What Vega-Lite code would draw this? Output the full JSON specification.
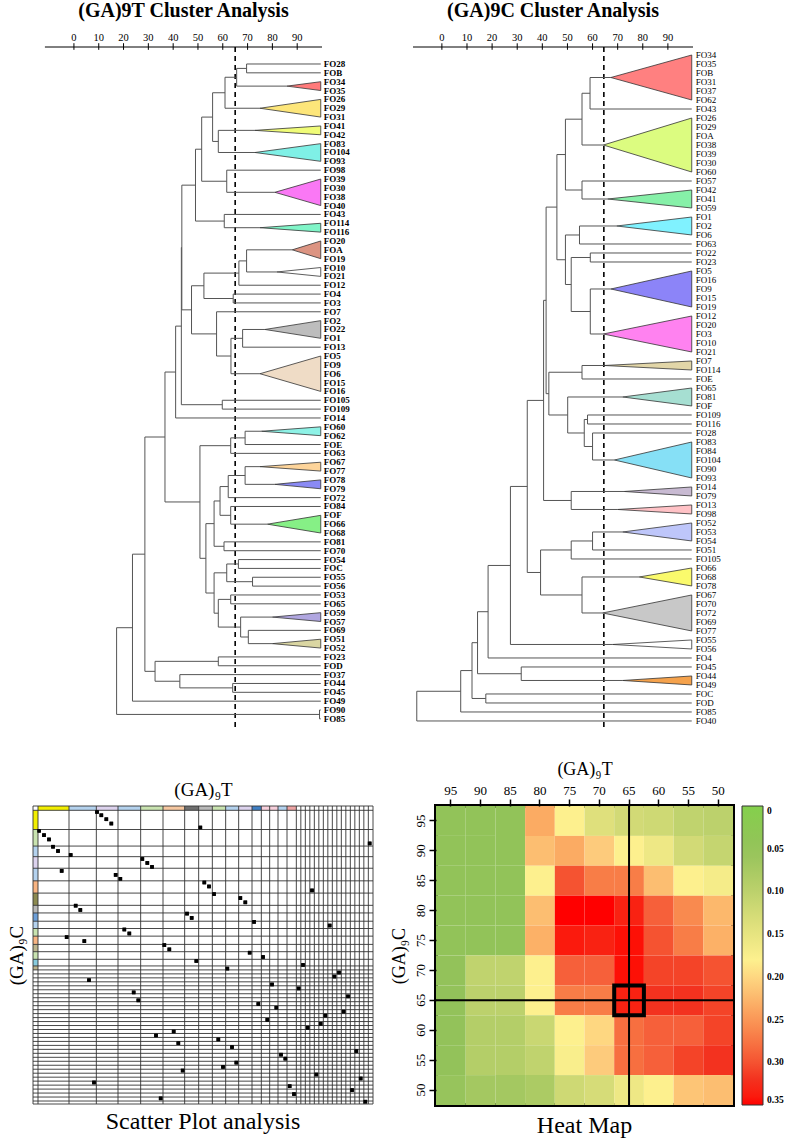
{
"$schema": "https://vega.github.io/schema/vega-lite/v6.json",
"background": "white",
"padding": {"left": 7, "top": 1, "right": 2, "bottom": 2},
"config": {
  "font": "Liberation Serif",
  "view": {"stroke": null},
  "title": {"font": "Liberation Serif", "color": "black"},
  "axis": {"labelFont": "Liberation Serif", "titleFont": "Liberation Serif", "labelColor": "black", "titleColor": "black", "tickColor": "black", "grid": false},
  "legend": {"labelFont": "Liberation Serif", "labelColor": "black"},
  "text": {"font": "Liberation Serif"}
},
"datasets": {
  "tk": [{"v":0},{"v":10},{"v":20},{"v":30},{"v":40},{"v":50},{"v":60},{"v":70},{"v":80},{"v":90}],
  "tn": [
    {"x":69.6,"ya":0,"xa":99.5,"yb":1,"xb":99.5},
    {"x":65.6,"ya":0.5,"xa":69.6,"yb":2.5,"xb":85.9},
    {"x":60.9,"ya":1.5,"xa":65.6,"yb":5,"xb":75},
    {"x":58.2,"ya":7.5,"xa":73,"yb":10,"xb":73},
    {"x":55.9,"ya":3.25,"xa":60.9,"yb":8.75,"xb":58.2},
    {"x":61.6,"ya":12,"xa":99.5,"yb":14.5,"xb":81},
    {"x":51.5,"ya":6,"xa":55.9,"yb":13.25,"xb":61.6},
    {"x":60.6,"ya":17,"xa":99.5,"yb":18.5,"xb":75},
    {"x":49.0,"ya":9.63,"xa":51.5,"yb":17.75,"xb":60.6},
    {"x":69.6,"ya":21,"xa":88,"yb":23.5,"xb":81.8},
    {"x":66.5,"ya":22.25,"xa":69.6,"yb":25,"xb":99.5},
    {"x":64.2,"ya":26,"xa":99.5,"yb":27,"xb":99.5},
    {"x":52.4,"ya":23.63,"xa":66.5,"yb":26.5,"xb":64.2},
    {"x":68,"ya":30,"xa":77,"yb":32,"xb":99.5},
    {"x":63.3,"ya":31,"xa":68,"yb":35,"xb":75},
    {"x":57.5,"ya":28,"xa":99.5,"yb":33,"xb":63.3},
    {"x":47.4,"ya":25.06,"xa":52.4,"yb":30.5,"xb":57.5},
    {"x":43.5,"ya":13.69,"xa":49.0,"yb":27.78,"xb":47.4},
    {"x":59.8,"ya":38,"xa":99.5,"yb":39,"xb":99.5},
    {"x":43.3,"ya":20.74,"xa":43.5,"yb":38.5,"xb":59.8},
    {"x":41,"ya":29.62,"xa":43.3,"yb":40,"xb":99.5},
    {"x":69,"ya":41.5,"xa":75.6,"yb":43,"xb":99.5},
    {"x":63.2,"ya":42.25,"xa":69,"yb":44,"xb":99.5},
    {"x":69,"ya":45.5,"xa":75,"yb":47.5,"xb":81},
    {"x":62.2,"ya":46.5,"xa":69,"yb":49,"xb":99.5},
    {"x":63.2,"ya":50,"xa":99.5,"yb":52,"xb":78},
    {"x":58.9,"ya":47.75,"xa":62.2,"yb":51,"xb":63.2},
    {"x":60.5,"ya":54,"xa":99.5,"yb":55,"xb":99.5},
    {"x":56.5,"ya":49.38,"xa":58.9,"yb":54.5,"xb":60.5},
    {"x":66.3,"ya":56,"xa":99.5,"yb":57,"xb":99.5},
    {"x":72,"ya":58,"xa":99.5,"yb":59,"xb":99.5},
    {"x":61.6,"ya":56.5,"xa":66.3,"yb":58.5,"xb":72},
    {"x":63.2,"ya":60,"xa":99.5,"yb":61,"xb":99.5},
    {"x":70.3,"ya":64,"xa":99.5,"yb":65.5,"xb":80},
    {"x":67.2,"ya":62.5,"xa":80,"yb":64.75,"xb":70.3},
    {"x":58.2,"ya":60.5,"xa":63.2,"yb":63.63,"xb":67.2},
    {"x":56.5,"ya":57.5,"xa":61.6,"yb":62.06,"xb":58.2},
    {"x":53.2,"ya":51.94,"xa":56.5,"yb":59.78,"xb":56.5},
    {"x":50.8,"ya":43.13,"xa":63.2,"yb":55.86,"xb":53.2},
    {"x":36.7,"ya":34.81,"xa":41,"yb":49.49,"xb":50.8},
    {"x":58.2,"ya":67,"xa":99.5,"yb":68,"xb":99.5},
    {"x":64,"ya":70,"xa":99.5,"yb":71,"xb":99.5},
    {"x":42.7,"ya":69,"xa":99.5,"yb":70.5,"xb":64},
    {"x":32.7,"ya":67.5,"xa":58.2,"yb":69.75,"xb":42.7},
    {"x":28.6,"ya":42.15,"xa":36.7,"yb":68.63,"xb":32.7},
    {"x":23.6,"ya":55.39,"xa":28.6,"yb":72,"xb":99.5},
    {"x":99,"ya":73,"xa":99.5,"yb":74,"xb":99.5},
    {"x":17.2,"ya":63.7,"xa":23.6,"yb":73.5,"xb":99}
  ],
  "cn": [
    {"x":59,"ya":2.5,"xa":67.3,"yb":6,"xb":99.5},
    {"x":55.8,"ya":4.25,"xa":59,"yb":10,"xb":64.3},
    {"x":55.8,"ya":14,"xa":99.5,"yb":16,"xb":66},
    {"x":49.2,"ya":7.13,"xa":55.8,"yb":15,"xb":55.8},
    {"x":54.8,"ya":19,"xa":69.6,"yb":21,"xb":99.5},
    {"x":59.1,"ya":22,"xa":99.5,"yb":23,"xb":99.5},
    {"x":59.1,"ya":26,"xa":67.3,"yb":31,"xb":64.3},
    {"x":51.5,"ya":22.5,"xa":59.1,"yb":28.5,"xb":59.1},
    {"x":49.2,"ya":20,"xa":54.8,"yb":25.5,"xb":51.5},
    {"x":45.8,"ya":11.06,"xa":49.2,"yb":22.75,"xb":49.2},
    {"x":55.8,"ya":34.5,"xa":64.7,"yb":36,"xb":99.5},
    {"x":58,"ya":40,"xa":99.5,"yb":41,"xb":99.5},
    {"x":60,"ya":42,"xa":99.5,"yb":45,"xb":68.7},
    {"x":56.7,"ya":40.5,"xa":58,"yb":43.5,"xb":60},
    {"x":50.1,"ya":38,"xa":72,"yb":42,"xb":56.7},
    {"x":42.6,"ya":35.25,"xa":55.8,"yb":40,"xb":50.1},
    {"x":41.5,"ya":16.9,"xa":45.8,"yb":37.63,"xb":42.6},
    {"x":51.5,"ya":48.5,"xa":72.6,"yb":50.5,"xb":70},
    {"x":40.5,"ya":27.26,"xa":41.5,"yb":49.5,"xb":51.5},
    {"x":60,"ya":53,"xa":72,"yb":55,"xb":99.5},
    {"x":51.5,"ya":54,"xa":60,"yb":56,"xb":99.5},
    {"x":55.8,"ya":58,"xa":78.6,"yb":62,"xb":64},
    {"x":39.3,"ya":55,"xa":51.5,"yb":60,"xb":55.8},
    {"x":34,"ya":38.38,"xa":40.5,"yb":57.5,"xb":39.3},
    {"x":27.3,"ya":47.94,"xa":34,"yb":65.5,"xb":68},
    {"x":18.4,"ya":56.72,"xa":27.3,"yb":67,"xb":99.5},
    {"x":31.6,"ya":68,"xa":99.5,"yb":69.5,"xb":72},
    {"x":14.2,"ya":61.86,"xa":18.4,"yb":68.75,"xb":31.6},
    {"x":17.5,"ya":71,"xa":99.5,"yb":72,"xb":99.5},
    {"x":12,"ya":65.3,"xa":14.2,"yb":71.5,"xb":17.5},
    {"x":7.5,"ya":68.4,"xa":12,"yb":73,"xb":99.5},
    {"x":-10,"ya":70.7,"xa":7.5,"yb":74,"xb":99.5}
  ],
  "tt": [
    {"cl":"tA","x":85.9,"y":2.5,"y2":2.5},{"cl":"tA","x":99.5,"y":2,"y2":3},
    {"cl":"tB","x":75,"y":5,"y2":5},{"cl":"tB","x":99.5,"y":4,"y2":6},
    {"cl":"tC","x":73,"y":7.5,"y2":7.5},{"cl":"tC","x":99.5,"y":7,"y2":8},
    {"cl":"tD","x":73,"y":10,"y2":10},{"cl":"tD","x":99.5,"y":9,"y2":11},
    {"cl":"tE","x":81,"y":14.5,"y2":14.5},{"cl":"tE","x":99.5,"y":13,"y2":16},
    {"cl":"tF","x":75,"y":18.5,"y2":18.5},{"cl":"tF","x":99.5,"y":18,"y2":19},
    {"cl":"tG","x":88,"y":21,"y2":21},{"cl":"tG","x":99.5,"y":20,"y2":22},
    {"cl":"tH","x":81.8,"y":23.5,"y2":23.5},{"cl":"tH","x":99.5,"y":23,"y2":24},
    {"cl":"tI","x":77,"y":30,"y2":30},{"cl":"tI","x":99.5,"y":29,"y2":31},
    {"cl":"tJ","x":75,"y":35,"y2":35},{"cl":"tJ","x":99.5,"y":33,"y2":37},
    {"cl":"tK","x":75.6,"y":41.5,"y2":41.5},{"cl":"tK","x":99.5,"y":41,"y2":42},
    {"cl":"tL","x":75,"y":45.5,"y2":45.5},{"cl":"tL","x":99.5,"y":45,"y2":46},
    {"cl":"tM","x":81,"y":47.5,"y2":47.5},{"cl":"tM","x":99.5,"y":47,"y2":48},
    {"cl":"tN","x":78,"y":52,"y2":52},{"cl":"tN","x":99.5,"y":51,"y2":53},
    {"cl":"tO","x":80,"y":62.5,"y2":62.5},{"cl":"tO","x":99.5,"y":62,"y2":63},
    {"cl":"tP","x":80,"y":65.5,"y2":65.5},{"cl":"tP","x":99.5,"y":65,"y2":66}
  ],
  "ct": [
    {"cl":"cA","x":67.3,"y":2.5,"y2":2.5},{"cl":"cA","x":99.5,"y":0,"y2":5},
    {"cl":"cB","x":64.3,"y":10,"y2":10},{"cl":"cB","x":99.5,"y":7,"y2":13},
    {"cl":"cC","x":66,"y":16,"y2":16},{"cl":"cC","x":99.5,"y":15,"y2":17},
    {"cl":"cD","x":69.6,"y":19,"y2":19},{"cl":"cD","x":99.5,"y":18,"y2":20},
    {"cl":"cE","x":67.3,"y":26,"y2":26},{"cl":"cE","x":99.5,"y":24,"y2":28},
    {"cl":"cF","x":64.3,"y":31,"y2":31},{"cl":"cF","x":99.5,"y":29,"y2":33},
    {"cl":"cG","x":64.7,"y":34.5,"y2":34.5},{"cl":"cG","x":99.5,"y":34,"y2":35},
    {"cl":"cH","x":72,"y":38,"y2":38},{"cl":"cH","x":99.5,"y":37,"y2":39},
    {"cl":"cI","x":68.7,"y":45,"y2":45},{"cl":"cI","x":99.5,"y":43,"y2":47},
    {"cl":"cJ","x":72.6,"y":48.5,"y2":48.5},{"cl":"cJ","x":99.5,"y":48,"y2":49},
    {"cl":"cK","x":70,"y":50.5,"y2":50.5},{"cl":"cK","x":99.5,"y":50,"y2":51},
    {"cl":"cL","x":72,"y":53,"y2":53},{"cl":"cL","x":99.5,"y":52,"y2":54},
    {"cl":"cM","x":78.6,"y":58,"y2":58},{"cl":"cM","x":99.5,"y":57,"y2":59},
    {"cl":"cN","x":64,"y":62,"y2":62},{"cl":"cN","x":99.5,"y":60,"y2":64},
    {"cl":"cO","x":68,"y":65.5,"y2":65.5},{"cl":"cO","x":99.5,"y":65,"y2":66},
    {"cl":"cP","x":72,"y":69.5,"y2":69.5},{"cl":"cP","x":99.5,"y":69,"y2":70}
  ],
  "tl": [
    {"i":0,"n":"FO28"},{"i":1,"n":"FOB"},{"i":2,"n":"FO34"},{"i":3,"n":"FO35"},{"i":4,"n":"FO26"},{"i":5,"n":"FO29"},{"i":6,"n":"FO31"},{"i":7,"n":"FO41"},{"i":8,"n":"FO42"},{"i":9,"n":"FO83"},
    {"i":10,"n":"FO104"},{"i":11,"n":"FO93"},{"i":12,"n":"FO98"},{"i":13,"n":"FO39"},{"i":14,"n":"FO30"},{"i":15,"n":"FO38"},{"i":16,"n":"FO40"},{"i":17,"n":"FO43"},{"i":18,"n":"FO114"},{"i":19,"n":"FO116"},
    {"i":20,"n":"FO20"},{"i":21,"n":"FOA"},{"i":22,"n":"FO19"},{"i":23,"n":"FO10"},{"i":24,"n":"FO21"},{"i":25,"n":"FO12"},{"i":26,"n":"FO4"},{"i":27,"n":"FO3"},{"i":28,"n":"FO7"},{"i":29,"n":"FO2"},
    {"i":30,"n":"FO22"},{"i":31,"n":"FO1"},{"i":32,"n":"FO13"},{"i":33,"n":"FO5"},{"i":34,"n":"FO9"},{"i":35,"n":"FO6"},{"i":36,"n":"FO15"},{"i":37,"n":"FO16"},{"i":38,"n":"FO105"},{"i":39,"n":"FO109"},
    {"i":40,"n":"FO14"},{"i":41,"n":"FO60"},{"i":42,"n":"FO62"},{"i":43,"n":"FOE"},{"i":44,"n":"FO63"},{"i":45,"n":"FO67"},{"i":46,"n":"FO77"},{"i":47,"n":"FO78"},{"i":48,"n":"FO79"},{"i":49,"n":"FO72"},
    {"i":50,"n":"FO84"},{"i":51,"n":"FOF"},{"i":52,"n":"FO66"},{"i":53,"n":"FO68"},{"i":54,"n":"FO81"},{"i":55,"n":"FO70"},{"i":56,"n":"FO54"},{"i":57,"n":"FOC"},{"i":58,"n":"FO55"},{"i":59,"n":"FO56"},
    {"i":60,"n":"FO53"},{"i":61,"n":"FO65"},{"i":62,"n":"FO59"},{"i":63,"n":"FO57"},{"i":64,"n":"FO69"},{"i":65,"n":"FO51"},{"i":66,"n":"FO52"},{"i":67,"n":"FO23"},{"i":68,"n":"FOD"},{"i":69,"n":"FO37"},
    {"i":70,"n":"FO44"},{"i":71,"n":"FO45"},{"i":72,"n":"FO49"},{"i":73,"n":"FO90"},{"i":74,"n":"FO85"}
  ],
  "cl": [
    {"i":0,"n":"FO34"},{"i":1,"n":"FO35"},{"i":2,"n":"FOB"},{"i":3,"n":"FO31"},{"i":4,"n":"FO37"},{"i":5,"n":"FO62"},{"i":6,"n":"FO43"},{"i":7,"n":"FO26"},{"i":8,"n":"FO29"},{"i":9,"n":"FOA"},
    {"i":10,"n":"FO38"},{"i":11,"n":"FO39"},{"i":12,"n":"FO30"},{"i":13,"n":"FO60"},{"i":14,"n":"FO57"},{"i":15,"n":"FO42"},{"i":16,"n":"FO41"},{"i":17,"n":"FO59"},{"i":18,"n":"FO1"},{"i":19,"n":"FO2"},
    {"i":20,"n":"FO6"},{"i":21,"n":"FO63"},{"i":22,"n":"FO22"},{"i":23,"n":"FO23"},{"i":24,"n":"FO5"},{"i":25,"n":"FO16"},{"i":26,"n":"FO9"},{"i":27,"n":"FO15"},{"i":28,"n":"FO19"},{"i":29,"n":"FO12"},
    {"i":30,"n":"FO20"},{"i":31,"n":"FO3"},{"i":32,"n":"FO10"},{"i":33,"n":"FO21"},{"i":34,"n":"FO7"},{"i":35,"n":"FO114"},{"i":36,"n":"FOE"},{"i":37,"n":"FO65"},{"i":38,"n":"FO81"},{"i":39,"n":"FOF"},
    {"i":40,"n":"FO109"},{"i":41,"n":"FO116"},{"i":42,"n":"FO28"},{"i":43,"n":"FO83"},{"i":44,"n":"FO84"},{"i":45,"n":"FO104"},{"i":46,"n":"FO90"},{"i":47,"n":"FO93"},{"i":48,"n":"FO14"},{"i":49,"n":"FO79"},
    {"i":50,"n":"FO13"},{"i":51,"n":"FO98"},{"i":52,"n":"FO52"},{"i":53,"n":"FO53"},{"i":54,"n":"FO54"},{"i":55,"n":"FO51"},{"i":56,"n":"FO105"},{"i":57,"n":"FO66"},{"i":58,"n":"FO68"},{"i":59,"n":"FO78"},
    {"i":60,"n":"FO67"},{"i":61,"n":"FO70"},{"i":62,"n":"FO72"},{"i":63,"n":"FO69"},{"i":64,"n":"FO77"},{"i":65,"n":"FO55"},{"i":66,"n":"FO56"},{"i":67,"n":"FO4"},{"i":68,"n":"FO45"},{"i":69,"n":"FO44"},
    {"i":70,"n":"FO49"},{"i":71,"n":"FOC"},{"i":72,"n":"FOD"},{"i":73,"n":"FO85"},{"i":74,"n":"FO40"}
  ],
  "heat": [
    {"C":95,"T":95,"v":0.045},{"C":95,"T":90,"v":0.045},{"C":95,"T":85,"v":0.045},{"C":95,"T":80,"v":0.235},{"C":95,"T":75,"v":0.18},{"C":95,"T":70,"v":0.14},{"C":95,"T":65,"v":0.125},{"C":95,"T":60,"v":0.12},{"C":95,"T":55,"v":0.105},{"C":95,"T":50,"v":0.1},
    {"C":90,"T":95,"v":0.045},{"C":90,"T":90,"v":0.045},{"C":90,"T":85,"v":0.045},{"C":90,"T":80,"v":0.22},{"C":90,"T":75,"v":0.235},{"C":90,"T":70,"v":0.21},{"C":90,"T":65,"v":0.18},{"C":90,"T":60,"v":0.16},{"C":90,"T":55,"v":0.125},{"C":90,"T":50,"v":0.11},
    {"C":85,"T":95,"v":0.045},{"C":85,"T":90,"v":0.045},{"C":85,"T":85,"v":0.045},{"C":85,"T":80,"v":0.18},{"C":85,"T":75,"v":0.3},{"C":85,"T":70,"v":0.27},{"C":85,"T":65,"v":0.27},{"C":85,"T":60,"v":0.22},{"C":85,"T":55,"v":0.18},{"C":85,"T":50,"v":0.17},
    {"C":80,"T":95,"v":0.045},{"C":80,"T":90,"v":0.045},{"C":80,"T":85,"v":0.045},{"C":80,"T":80,"v":0.22},{"C":80,"T":75,"v":0.35},{"C":80,"T":70,"v":0.35},{"C":80,"T":65,"v":0.335},{"C":80,"T":60,"v":0.29},{"C":80,"T":55,"v":0.26},{"C":80,"T":50,"v":0.225},
    {"C":75,"T":95,"v":0.045},{"C":75,"T":90,"v":0.045},{"C":75,"T":85,"v":0.045},{"C":75,"T":80,"v":0.23},{"C":75,"T":75,"v":0.34},{"C":75,"T":70,"v":0.335},{"C":75,"T":65,"v":0.345},{"C":75,"T":60,"v":0.3},{"C":75,"T":55,"v":0.27},{"C":75,"T":50,"v":0.23},
    {"C":70,"T":95,"v":0.05},{"C":70,"T":90,"v":0.105},{"C":70,"T":85,"v":0.105},{"C":70,"T":80,"v":0.18},{"C":70,"T":75,"v":0.29},{"C":70,"T":70,"v":0.29},{"C":70,"T":65,"v":0.345},{"C":70,"T":60,"v":0.31},{"C":70,"T":55,"v":0.31},{"C":70,"T":50,"v":0.3},
    {"C":65,"T":95,"v":0.05},{"C":65,"T":90,"v":0.1},{"C":65,"T":85,"v":0.1},{"C":65,"T":80,"v":0.18},{"C":65,"T":75,"v":0.27},{"C":65,"T":70,"v":0.27},{"C":65,"T":65,"v":0.335},{"C":65,"T":60,"v":0.32},{"C":65,"T":55,"v":0.32},{"C":65,"T":50,"v":0.31},
    {"C":60,"T":95,"v":0.05},{"C":60,"T":90,"v":0.09},{"C":60,"T":85,"v":0.09},{"C":60,"T":80,"v":0.115},{"C":60,"T":75,"v":0.18},{"C":60,"T":70,"v":0.2},{"C":60,"T":65,"v":0.28},{"C":60,"T":60,"v":0.29},{"C":60,"T":55,"v":0.29},{"C":60,"T":50,"v":0.31},
    {"C":55,"T":95,"v":0.05},{"C":55,"T":90,"v":0.09},{"C":55,"T":85,"v":0.09},{"C":55,"T":80,"v":0.105},{"C":55,"T":75,"v":0.175},{"C":55,"T":70,"v":0.21},{"C":55,"T":65,"v":0.28},{"C":55,"T":60,"v":0.29},{"C":55,"T":55,"v":0.31},{"C":55,"T":50,"v":0.32},
    {"C":50,"T":95,"v":0.055},{"C":50,"T":90,"v":0.07},{"C":50,"T":85,"v":0.07},{"C":50,"T":80,"v":0.08},{"C":50,"T":75,"v":0.12},{"C":50,"T":70,"v":0.13},{"C":50,"T":65,"v":0.16},{"C":50,"T":60,"v":0.18},{"C":50,"T":55,"v":0.215},{"C":50,"T":50,"v":0.22}
  ],
  "sdots": [
    {"x":192,"y":18},{"x":205,"y":28},{"x":220,"y":40},{"x":235,"y":53},{"x":502,"y":65},{"x":18,"y":75},{"x":33,"y":88},{"x":48,"y":101},{"x":60,"y":123},{"x":75,"y":136},
    {"x":1010,"y":113},{"x":113,"y":148},{"x":328,"y":160},{"x":343,"y":172},{"x":357,"y":184},{"x":86,"y":196},{"x":248,"y":208},{"x":262,"y":220},{"x":514,"y":231},{"x":528,"y":243},
    {"x":543,"y":266},{"x":837,"y":255},{"x":622,"y":278},{"x":637,"y":291},{"x":128,"y":301},{"x":142,"y":314},{"x":462,"y":325},{"x":476,"y":338},{"x":663,"y":350},{"x":890,"y":361},
    {"x":274,"y":373},{"x":289,"y":385},{"x":101,"y":396},{"x":154,"y":408},{"x":394,"y":420},{"x":409,"y":433},{"x":650,"y":443},{"x":690,"y":456},{"x":490,"y":468},{"x":810,"y":480},
    {"x":583,"y":491},{"x":918,"y":503},{"x":904,"y":515},{"x":168,"y":526},{"x":717,"y":539},{"x":797,"y":551},{"x":302,"y":563},{"x":945,"y":575},{"x":316,"y":587},{"x":676,"y":598},
    {"x":730,"y":609},{"x":932,"y":621},{"x":877,"y":633},{"x":703,"y":646},{"x":863,"y":658},{"x":824,"y":670},{"x":422,"y":681},{"x":369,"y":693},{"x":556,"y":705},{"x":436,"y":716},
    {"x":597,"y":728},{"x":970,"y":740},{"x":744,"y":751},{"x":757,"y":763},{"x":610,"y":775},{"x":570,"y":788},{"x":449,"y":799},{"x":850,"y":811},{"x":983,"y":823},{"x":183,"y":835},
    {"x":770,"y":846},{"x":957,"y":858},{"x":783,"y":870},{"x":383,"y":883},{"x":997,"y":893}
  ],
  "svl": [
    {"v":0},{"v":15},{"v":108},{"v":190},{"v":255},{"v":323},{"v":390},{"v":455},{"v":497},{"v":538},{"v":578},{"v":617},{"v":657},{"v":685},{"v":710},{"v":735},{"v":762},{"v":790},
    {"v":803.5},{"v":817},{"v":830.5},{"v":844},{"v":857.5},{"v":871},{"v":884.5},{"v":898},{"v":911.5},{"v":925},{"v":938.5},{"v":952},{"v":965.5},{"v":979},{"v":992.5},{"v":1006},{"v":1020}
  ],
  "shl": [
    {"v":0},{"v":13},{"v":71},{"v":121},{"v":153},{"v":188},{"v":226},{"v":263},{"v":300},{"v":323},{"v":348},{"v":370},{"v":393},{"v":418},{"v":440},{"v":463},{"v":483},
    {"v":495},{"v":507},{"v":519},{"v":531},{"v":543},{"v":555},{"v":567},{"v":579},{"v":591},{"v":603},{"v":615},{"v":627},{"v":639},{"v":651},{"v":663},{"v":675},{"v":687},{"v":699},{"v":711},
    {"v":723},{"v":735},{"v":747},{"v":759},{"v":771},{"v":783},{"v":795},{"v":807},{"v":819},{"v":831},{"v":843},{"v":855},{"v":867},{"v":879},{"v":891},{"v":900}
  ],
  "sstrip": [
    {"x":15,"x2":108,"y":0,"y2":13,"k":"Y"},{"x":108,"x2":190,"y":0,"y2":13,"k":"LB"},{"x":190,"x2":255,"y":0,"y2":13,"k":"LV"},{"x":255,"x2":323,"y":0,"y2":13,"k":"LB"},
    {"x":323,"x2":390,"y":0,"y2":13,"k":"LG"},{"x":390,"x2":455,"y":0,"y2":13,"k":"PE"},{"x":455,"x2":497,"y":0,"y2":13,"k":"DG"},{"x":497,"x2":538,"y":0,"y2":13,"k":"GR"},
    {"x":538,"x2":578,"y":0,"y2":13,"k":"LG"},{"x":578,"x2":617,"y":0,"y2":13,"k":"LB"},{"x":617,"x2":657,"y":0,"y2":13,"k":"LV"},{"x":657,"x2":685,"y":0,"y2":13,"k":"BL"},
    {"x":685,"x2":710,"y":0,"y2":13,"k":"PK"},{"x":710,"x2":735,"y":0,"y2":13,"k":"PK"},{"x":735,"x2":762,"y":0,"y2":13,"k":"LB"},{"x":762,"x2":790,"y":0,"y2":13,"k":"SA"},
    {"x":0,"x2":15,"y":13,"y2":71,"k":"Y"},{"x":0,"x2":15,"y":71,"y2":121,"k":"LG"},{"x":0,"x2":15,"y":121,"y2":153,"k":"LB"},{"x":0,"x2":15,"y":153,"y2":188,"k":"LV"},
    {"x":0,"x2":15,"y":188,"y2":226,"k":"LB"},{"x":0,"x2":15,"y":226,"y2":263,"k":"OR"},{"x":0,"x2":15,"y":263,"y2":300,"k":"OL"},{"x":0,"x2":15,"y":300,"y2":323,"k":"GR"},
    {"x":0,"x2":15,"y":323,"y2":348,"k":"BL2"},{"x":0,"x2":15,"y":348,"y2":370,"k":"LB"},{"x":0,"x2":15,"y":370,"y2":393,"k":"LG"},{"x":0,"x2":15,"y":393,"y2":418,"k":"OR"},
    {"x":0,"x2":15,"y":418,"y2":440,"k":"KH"},{"x":0,"x2":15,"y":440,"y2":463,"k":"LG"},{"x":0,"x2":15,"y":463,"y2":483,"k":"CY"},{"x":0,"x2":15,"y":483,"y2":495,"k":"KH"}
  ]
},
"spacing": 30,
"bounds": "full",
"resolve": {"scale": {"fill": "independent", "color": "independent"}},
"vconcat": [
  {
    "hconcat": [
      {
        "width": 289, "height": 680,
        "title": {"text": "(GA)9T Cluster Analysis", "fontSize": 20, "fontWeight": "bold", "dx": 6, "offset": 12},
        "layer": [
          {"data": {"name": "tn"}, "mark": {"type": "rule", "color": "#555", "strokeWidth": 1},
           "encoding": {"x": {"field": "x", "type": "quantitative", "scale": {"domain": [-16.5, 100], "nice": false, "zero": false}, "axis": null},
                        "y": {"field": "ya", "type": "quantitative", "scale": {"domain": [-1.92, 74.92], "reverse": true, "nice": false, "zero": false}, "axis": null},
                        "y2": {"field": "yb"}}},
          {"data": {"values": [{}]}, "mark": {"type": "rule", "color": "black", "strokeWidth": 1},
           "encoding": {
             "x": {"datum": -11.7, "type": "quantitative", "scale": {"domain": [-16.5, 100], "nice": false, "zero": false}, "axis": null},
             "x2": {"datum": 100},
             "y": {"datum": -1.92, "type": "quantitative", "scale": {"domain": [-1.92, 74.92], "reverse": true, "nice": false, "zero": false}, "axis": null}}},
          {"data": {"name": "tk"}, "mark": {"type": "rule", "color": "black", "strokeWidth": 1},
           "encoding": {
             "x": {"field": "v", "type": "quantitative", "scale": {"domain": [-16.5, 100], "nice": false, "zero": false}, "axis": null},
             "y": {"datum": -2.35, "type": "quantitative", "scale": {"domain": [-1.92, 74.92], "reverse": true, "nice": false, "zero": false}, "axis": null},
             "y2": {"datum": -1.6}}},
          {"data": {"name": "tk"}, "mark": {"type": "text", "align": "center", "baseline": "alphabetic", "dy": -6, "fontSize": 10.5, "color": "black"},
           "encoding": {
             "x": {"field": "v", "type": "quantitative", "scale": {"domain": [-16.5, 100], "nice": false, "zero": false}, "axis": null},
             "y": {"datum": -1.92, "type": "quantitative", "scale": {"domain": [-1.92, 74.92], "reverse": true, "nice": false, "zero": false}, "axis": null},
             "text": {"field": "v"}}},
          {"data": {"values": [{}]}, "mark": {"type": "rule", "color": "black", "strokeWidth": 1.6, "strokeDash": [5, 4]},
           "encoding": {"x": {"datum": 65, "type": "quantitative", "scale": {"domain": [-16.5, 100], "nice": false, "zero": false}, "axis": null}}},
          {"data": {"name": "tn"}, "mark": {"type": "rule", "color": "#555", "strokeWidth": 1},
           "encoding": {"x": {"field": "x", "type": "quantitative", "scale": {"domain": [-16.5, 100], "nice": false, "zero": false}, "axis": null},
                        "x2": {"field": "xa"},
                        "y": {"field": "ya", "type": "quantitative", "scale": {"domain": [-1.92, 74.92], "reverse": true, "nice": false, "zero": false}, "axis": null}}},
          {"data": {"name": "tn"}, "mark": {"type": "rule", "color": "#555", "strokeWidth": 1},
           "encoding": {"x": {"field": "x", "type": "quantitative", "scale": {"domain": [-16.5, 100], "nice": false, "zero": false}, "axis": null},
                        "x2": {"field": "xb"},
                        "y": {"field": "yb", "type": "quantitative", "scale": {"domain": [-1.92, 74.92], "reverse": true, "nice": false, "zero": false}, "axis": null}}},
          {"data": {"name": "tt"}, "mark": {"type": "area", "stroke": "#333", "strokeWidth": 0.8, "fillOpacity": 1},
           "encoding": {"x": {"field": "x", "type": "quantitative", "scale": {"domain": [-16.5, 100], "nice": false, "zero": false}, "axis": null},
                        "y": {"field": "y", "type": "quantitative", "stack": null, "scale": {"domain": [-1.92, 74.92], "reverse": true, "nice": false, "zero": false}, "axis": null},
                        "y2": {"field": "y2"},
                        "fill": {"field": "cl", "type": "nominal", "legend": null,
                                 "scale": {"domain": ["tA","tB","tC","tD","tE","tF","tG","tH","tI","tJ","tK","tL","tM","tN","tO","tP"],
                                           "range": ["#ff7b7b","#fde67a","#f0fc78","#7ff0e6","#fa78f5","#80f5c8","#dc9482","#ffffff","#bdbdbd","#efdcc6","#8ef2e6","#fdd49a","#8a8af5","#86f086","#b0a6e0","#dad6a2"]}}}},
          {"data": {"name": "tl"}, "mark": {"type": "text", "align": "left", "baseline": "middle", "dx": 3, "fontSize": 9, "fontWeight": "bold", "color": "black"},
           "encoding": {"x": {"datum": 99.5, "type": "quantitative", "scale": {"domain": [-16.5, 100], "nice": false, "zero": false}, "axis": null},
                        "y": {"field": "i", "type": "quantitative", "scale": {"domain": [-1.92, 74.92], "reverse": true, "nice": false, "zero": false}, "axis": null},
                        "text": {"field": "n"}}}
        ]
      },
      {
        "width": 280, "height": 680,
        "title": {"text": "(GA)9C Cluster Analysis", "fontSize": 20, "fontWeight": "bold", "offset": 12},
        "layer": [
          {"data": {"name": "cn"}, "mark": {"type": "rule", "color": "#555", "strokeWidth": 1},
           "encoding": {"x": {"field": "x", "type": "quantitative", "scale": {"domain": [-11.5, 100], "nice": false, "zero": false}, "axis": null},
                        "y": {"field": "ya", "type": "quantitative", "scale": {"domain": [-0.89, 74.67], "reverse": true, "nice": false, "zero": false}, "axis": null},
                        "y2": {"field": "yb"}}},
          {"data": {"values": [{}]}, "mark": {"type": "rule", "color": "black", "strokeWidth": 1},
           "encoding": {
             "x": {"datum": -11.5, "type": "quantitative", "scale": {"domain": [-11.5, 100], "nice": false, "zero": false}, "axis": null},
             "x2": {"datum": 100},
             "y": {"datum": -0.89, "type": "quantitative", "scale": {"domain": [-0.89, 74.67], "reverse": true, "nice": false, "zero": false}, "axis": null}}},
          {"data": {"name": "tk"}, "mark": {"type": "rule", "color": "black", "strokeWidth": 1},
           "encoding": {
             "x": {"field": "v", "type": "quantitative", "scale": {"domain": [-11.5, 100], "nice": false, "zero": false}, "axis": null},
             "y": {"datum": -1.3, "type": "quantitative", "scale": {"domain": [-0.89, 74.67], "reverse": true, "nice": false, "zero": false}, "axis": null},
             "y2": {"datum": -0.58}}},
          {"data": {"name": "tk"}, "mark": {"type": "text", "align": "center", "baseline": "alphabetic", "dy": -6, "fontSize": 10.5, "color": "black"},
           "encoding": {
             "x": {"field": "v", "type": "quantitative", "scale": {"domain": [-11.5, 100], "nice": false, "zero": false}, "axis": null},
             "y": {"datum": -0.89, "type": "quantitative", "scale": {"domain": [-0.89, 74.67], "reverse": true, "nice": false, "zero": false}, "axis": null},
             "text": {"field": "v"}}},
          {"data": {"values": [{}]}, "mark": {"type": "rule", "color": "black", "strokeWidth": 1.6, "strokeDash": [5, 4]},
           "encoding": {"x": {"datum": 64.5, "type": "quantitative", "scale": {"domain": [-11.5, 100], "nice": false, "zero": false}, "axis": null}}},
          {"data": {"name": "cn"}, "mark": {"type": "rule", "color": "#555", "strokeWidth": 1},
           "encoding": {"x": {"field": "x", "type": "quantitative", "scale": {"domain": [-11.5, 100], "nice": false, "zero": false}, "axis": null},
                        "x2": {"field": "xa"},
                        "y": {"field": "ya", "type": "quantitative", "scale": {"domain": [-0.89, 74.67], "reverse": true, "nice": false, "zero": false}, "axis": null}}},
          {"data": {"name": "cn"}, "mark": {"type": "rule", "color": "#555", "strokeWidth": 1},
           "encoding": {"x": {"field": "x", "type": "quantitative", "scale": {"domain": [-11.5, 100], "nice": false, "zero": false}, "axis": null},
                        "x2": {"field": "xb"},
                        "y": {"field": "yb", "type": "quantitative", "scale": {"domain": [-0.89, 74.67], "reverse": true, "nice": false, "zero": false}, "axis": null}}},
          {"data": {"name": "ct"}, "mark": {"type": "area", "stroke": "#333", "strokeWidth": 0.8, "fillOpacity": 1},
           "encoding": {"x": {"field": "x", "type": "quantitative", "scale": {"domain": [-11.5, 100], "nice": false, "zero": false}, "axis": null},
                        "y": {"field": "y", "type": "quantitative", "stack": null, "scale": {"domain": [-0.89, 74.67], "reverse": true, "nice": false, "zero": false}, "axis": null},
                        "y2": {"field": "y2"},
                        "fill": {"field": "cl", "type": "nominal", "legend": null,
                                 "scale": {"domain": ["cA","cB","cC","cD","cE","cF","cG","cH","cI","cJ","cK","cL","cM","cN","cO","cP"],
                                           "range": ["#ff8080","#dcfc80","#86f0a8","#80f2ff","#8c84f8","#ff82f0","#e2d6a8","#a6dfd2","#86e0f6","#c8bad2","#ffc2c6","#bec6fa","#fafa6c","#c8c8c8","#ffffff","#f5a24c"]}}}},
          {"data": {"name": "cl"}, "mark": {"type": "text", "align": "left", "baseline": "middle", "dx": 4, "fontSize": 9, "color": "black"},
           "encoding": {"x": {"datum": 99.5, "type": "quantitative", "scale": {"domain": [-11.5, 100], "nice": false, "zero": false}, "axis": null},
                        "y": {"field": "i", "type": "quantitative", "scale": {"domain": [-0.89, 74.67], "reverse": true, "nice": false, "zero": false}, "axis": null},
                        "text": {"field": "n"}}}
        ]
      }
    ],
    "spacing": 91,
    "bounds": "flush",
    "resolve": {"scale": {"fill": "independent", "color": "independent"}}
  },
  {
    "hconcat": [
      {
        "width": 340, "height": 298,
        "title": {"text": "Scatter Plot analysis", "orient": "bottom", "fontSize": 24, "fontWeight": "normal", "offset": 6},
        "layer": [
          {"data": {"name": "sdots"}, "mark": {"type": "square", "size": 13, "color": "black", "filled": true, "opacity": 1},
           "encoding": {"x": {"field": "x", "type": "quantitative", "scale": {"domain": [0, 1020], "nice": false, "zero": false},
                              "axis": {"orient": "top", "title": "(GA)₉T", "labels": false, "ticks": false, "domain": false, "titleFontSize": 19, "titleFontWeight": "normal", "titlePadding": 7}},
                        "y": {"field": "y", "type": "quantitative", "scale": {"domain": [0, 900], "reverse": true, "nice": false, "zero": false},
                              "axis": {"orient": "left", "title": "(GA)₉C", "labels": false, "ticks": false, "domain": false, "titleFontSize": 19, "titleFontWeight": "normal", "titlePadding": 7}}}},
          {"data": {"name": "sstrip"}, "mark": {"type": "rect"},
           "encoding": {"x": {"field": "x", "type": "quantitative", "scale": {"domain": [0, 1020], "nice": false, "zero": false}},
                        "x2": {"field": "x2"},
                        "y": {"field": "y", "type": "quantitative", "scale": {"domain": [0, 900], "reverse": true, "nice": false, "zero": false}},
                        "y2": {"field": "y2"},
                        "fill": {"field": "k", "type": "nominal", "legend": null,
                                 "scale": {"domain": ["Y","LB","LV","LG","PE","DG","GR","BL","PK","SA","OR","OL","BL2","KH","CY"],
                                           "range": ["#f2ee00","#b4d2ee","#ddd3ee","#c9e3b0","#f6c7a0","#6f6f6f","#b9b9b9","#3f7fc4","#f7d0dc","#eea4a4","#f8b482","#8c8a50","#6d9fd8","#bcb48c","#88ccdd"]}}}},
          {"data": {"name": "svl"}, "mark": {"type": "rule", "color": "#333", "strokeWidth": 0.9},
           "encoding": {"x": {"field": "v", "type": "quantitative", "scale": {"domain": [0, 1020], "nice": false, "zero": false}}}},
          {"data": {"name": "shl"}, "mark": {"type": "rule", "color": "#333", "strokeWidth": 0.9},
           "encoding": {"y": {"field": "v", "type": "quantitative", "scale": {"domain": [0, 900], "reverse": true, "nice": false, "zero": false}}}},
          {"data": {"name": "sdots"}, "mark": {"type": "square", "size": 13, "color": "black", "filled": true, "opacity": 1},
           "encoding": {"x": {"field": "x", "type": "quantitative", "scale": {"domain": [0, 1020], "nice": false, "zero": false}},
                        "y": {"field": "y", "type": "quantitative", "scale": {"domain": [0, 900], "reverse": true, "nice": false, "zero": false}}}}
        ]
      },
      {
        "width": 297, "height": 299,
        "view": {"stroke": "black", "strokeWidth": 4},
        "title": {"text": "Heat Map", "orient": "bottom", "fontSize": 24, "fontWeight": "normal", "offset": 8},
        "layer": [
          {"data": {"name": "heat"}, "mark": {"type": "rect"},
           "encoding": {
             "x": {"field": "T", "type": "ordinal", "scale": {"domain": [95,90,85,80,75,70,65,60,55,50], "paddingInner": 0, "paddingOuter": 0},
                   "axis": {"orient": "top", "title": "(GA)₉T", "titleFontSize": 18, "titleFontWeight": "normal", "titlePadding": 6, "labelFontSize": 13, "labelAngle": 0, "domain": false, "tickSize": 7, "tickWidth": 1.5, "labelPadding": 2}},
             "y": {"field": "C", "type": "ordinal", "scale": {"domain": [95,90,85,80,75,70,65,60,55,50], "paddingInner": 0, "paddingOuter": 0},
                   "axis": {"orient": "left", "title": "(GA)₉C", "titleFontSize": 18, "titleFontWeight": "normal", "titlePadding": 6, "labelFontSize": 13, "labelAngle": -90, "domain": false, "tickSize": 7, "tickWidth": 1.5, "labelPadding": 2}},
             "color": {"field": "v", "type": "quantitative",
                       "scale": {"domain": [0.35, 0.32, 0.29, 0.25, 0.21, 0.18, 0.14, 0.1, 0.05, 0],
                                 "range": ["#ff0000", "#f3321f", "#f6603a", "#fa9658", "#fdcb7c", "#fdf08e", "#dfe07c", "#bcd16c", "#93c25a", "#84d04c"]},
                       "legend": {"title": null, "orient": "right", "offset": 9, "padding": 0, "gradientLength": 299, "gradientThickness": 21,
                                  "values": [0, 0.05, 0.1, 0.15, 0.2, 0.25, 0.3, 0.35],
                                  "labelExpr": "datum.value == 0 ? '0' : format(datum.value, '.2f')",
                                  "labelFontSize": 9.5, "labelFontWeight": "bold", "labelOffset": 4, "labelOverlap": false,
                                  "gradientStrokeColor": "#333", "gradientStrokeWidth": 1, "direction": "vertical"}}}},
          {"data": {"values": [{}]}, "mark": {"type": "rule", "color": "black", "strokeWidth": 2},
           "encoding": {"x": {"datum": 65, "type": "ordinal", "scale": {"domain": [95,90,85,80,75,70,65,60,55,50], "paddingInner": 0, "paddingOuter": 0}}}},
          {"data": {"values": [{}]}, "mark": {"type": "rule", "color": "black", "strokeWidth": 2},
           "encoding": {"y": {"datum": 65, "type": "ordinal", "scale": {"domain": [95,90,85,80,75,70,65,60,55,50], "paddingInner": 0, "paddingOuter": 0}}}},
          {"data": {"values": [{"T": 65, "C": 65}]}, "mark": {"type": "rect", "filled": false, "stroke": "black", "strokeWidth": 4},
           "encoding": {"x": {"field": "T", "type": "ordinal", "scale": {"domain": [95,90,85,80,75,70,65,60,55,50], "paddingInner": 0, "paddingOuter": 0}},
                        "y": {"field": "C", "type": "ordinal", "scale": {"domain": [95,90,85,80,75,70,65,60,55,50], "paddingInner": 0, "paddingOuter": 0}}}}
        ]
      }
    ],
    "spacing": 63,
    "bounds": "flush",
    "resolve": {"scale": {"fill": "independent", "color": "independent"}}
  }
]
}
